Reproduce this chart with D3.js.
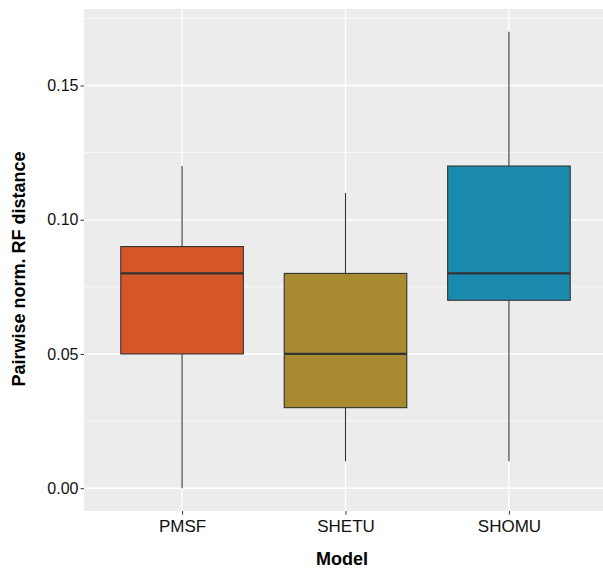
<!DOCTYPE html>
<html>
<head>
<meta charset="utf-8">
<script src="https://cdn.jsdelivr.net/npm/d3@7"></script>
<style>
  body { margin: 0; background: #fff; }
  svg { display: block; font-family: "Liberation Sans", Arial, sans-serif; }
</style>
</head>
<body>
<script>
var models = ["PMSF", "SHETU", "SHOMU"];
var mins    = [0.00, 0.01, 0.01];
var q1s     = [0.05, 0.03, 0.07];
var medians = [0.08, 0.05, 0.08];
var q3s     = [0.09, 0.08, 0.12];
var maxs    = [0.12, 0.11, 0.17];
var fills   = ["#D55727", "#A88A30", "#1A8AAE"];
var yTicks  = [0, 0.05, 0.10, 0.15];
var yMinor  = [0.025, 0.075, 0.125, 0.175];

var width = 603, height = 569;
var margin = {top: 9, right: -4, bottom: 58, left: 84};
var pw = width - margin.left - margin.right,
    ph = height - margin.top - margin.bottom;

var data = models.map(function(m, i) {
  return {name: m, min: mins[i], q1: q1s[i], med: medians[i], q3: q3s[i], max: maxs[i], fill: fills[i]};
});

var svg = d3.select("body").append("svg")
    .attr("width", width)
    .attr("height", height);

var g = svg.append("g")
    .attr("transform", "translate(" + margin.left + "," + margin.top + ")");

var x = d3.scalePoint().domain(models).range([0, pw]).padding(0.6);
var y = d3.scaleLinear().domain([-0.0085, 0.1785]).range([ph, 0]);
var boxW = x.step() * 0.75;

g.append("rect")
    .attr("width", pw)
    .attr("height", ph)
    .attr("fill", "#EBECEB");

// minor grid
g.selectAll(".minor")
    .data(yMinor)
  .enter().append("line")
    .attr("x1", 0).attr("x2", pw)
    .attr("y1", function(d) { return y(d); })
    .attr("y2", function(d) { return y(d); })
    .attr("stroke", "#fff").attr("stroke-width", 0.7);

// major grid
g.selectAll(".majorY")
    .data(yTicks)
  .enter().append("line")
    .attr("x1", 0).attr("x2", pw)
    .attr("y1", function(d) { return y(d); })
    .attr("y2", function(d) { return y(d); })
    .attr("stroke", "#fff").attr("stroke-width", 1.4);

g.selectAll(".majorX")
    .data(models)
  .enter().append("line")
    .attr("y1", 0).attr("y2", ph)
    .attr("x1", function(d) { return x(d); })
    .attr("x2", function(d) { return x(d); })
    .attr("stroke", "#fff").attr("stroke-width", 1.4);

// axes
var yAxis = g.append("g")
    .call(d3.axisLeft(y).tickValues(yTicks).tickFormat(d3.format(".2f")).tickSize(3.5).tickPadding(2));
var xAxis = g.append("g")
    .attr("transform", "translate(0," + ph + ")")
    .call(d3.axisBottom(x).tickSize(3.5).tickPadding(5));

[yAxis, xAxis].forEach(function(a) {
  a.select(".domain").remove();
  a.selectAll(".tick line").attr("stroke", "#333").attr("stroke-width", 1);
  a.selectAll(".tick text").attr("fill", "#111");
});
yAxis.selectAll(".tick text").style("font-size", "16px");
xAxis.selectAll(".tick text").style("font-size", "17px");

// boxes
var box = g.selectAll(".box")
    .data(data)
  .enter().append("g")
    .attr("class", "box");

box.append("line")
    .attr("x1", function(d) { return x(d.name); })
    .attr("x2", function(d) { return x(d.name); })
    .attr("y1", function(d) { return y(d.max); })
    .attr("y2", function(d) { return y(d.q3); })
    .attr("stroke", "#333").attr("stroke-width", 1.1);

box.append("line")
    .attr("x1", function(d) { return x(d.name); })
    .attr("x2", function(d) { return x(d.name); })
    .attr("y1", function(d) { return y(d.q1); })
    .attr("y2", function(d) { return y(d.min); })
    .attr("stroke", "#333").attr("stroke-width", 1.1);

box.append("rect")
    .attr("x", function(d) { return x(d.name) - boxW / 2; })
    .attr("y", function(d) { return y(d.q3); })
    .attr("width", boxW)
    .attr("height", function(d) { return y(d.q1) - y(d.q3); })
    .attr("fill", function(d) { return d.fill; })
    .attr("stroke", "#333").attr("stroke-width", 1.1);

box.append("line")
    .attr("x1", function(d) { return x(d.name) - boxW / 2; })
    .attr("x2", function(d) { return x(d.name) + boxW / 2; })
    .attr("y1", function(d) { return y(d.med); })
    .attr("y2", function(d) { return y(d.med); })
    .attr("stroke", "#333").attr("stroke-width", 2.2);

// titles
svg.append("text")
    .attr("x", 342)
    .attr("y", 565)
    .attr("text-anchor", "middle")
    .style("font-size", "18px").style("font-weight", "bold")
    .text("Model");

svg.append("text")
    .attr("transform", "translate(25,269) rotate(-90)")
    .attr("text-anchor", "middle")
    .style("font-size", "18px").style("font-weight", "bold")
    .text("Pairwise norm. RF distance");
</script>
</body>
</html>
